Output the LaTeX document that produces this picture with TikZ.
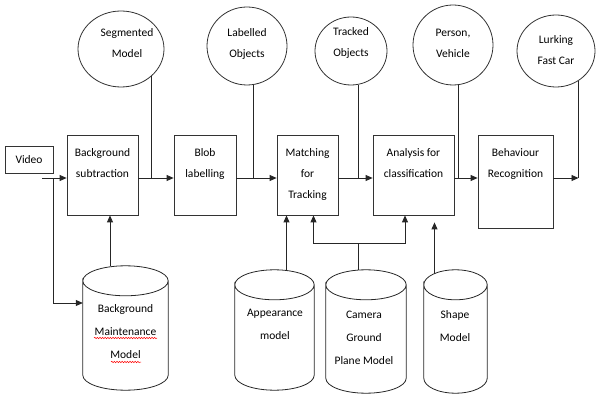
\documentclass[tikz,border=0pt]{standalone}
\usepackage{fontspec}
\setmainfont{Carlito}
\usetikzlibrary{positioning,shapes.geometric,arrows.meta,decorations.pathmorphing,calc}

\begin{document}
\begin{tikzpicture}[x=1pt,y=1pt,
  box/.style={draw=black!80, line width=0.8pt, inner sep=0pt, minimum height=80pt},
  oval/.style={draw=black!80, line width=0.8pt, ellipse, inner sep=0pt},
  drum/.style={inner sep=0pt},
  txt/.style={font=\fontsize{11.5}{21}\selectfont, align=center, inner sep=0pt},
  dtxt/.style={font=\fontsize{11.5}{23}\selectfont, align=center, inner sep=0pt},
  arr/.style={draw=black!85, line width=0.8pt, -{Triangle[length=7pt,width=6pt]}},
  link/.style={draw=black!85, line width=0.8pt},
  wavy/.style={draw=red, line width=0.5pt, decorate, decoration={snake, amplitude=0.7pt, segment length=2.6pt}}]
\useasboundingbox (0,0) rectangle (596,396);

% processing boxes
\node[box, minimum width=48pt, minimum height=27pt, txt] (video) at (29,236.5) {Video};
\node[box, minimum width=71pt] (bgs) at (102.5,221) {};
\node[box, minimum width=62pt] (blob) at (205,221) {};
\node[box, minimum width=61pt] (match) at (307.5,221) {};
\node[box, minimum width=81pt] (anal) at (413.5,221) {};
\node[box, minimum width=75pt, minimum height=93pt] (behav) at (515.5,214.5) {};
\node[txt, below=14pt of bgs.north] (bgstxt) {Background\\subtraction};
\node[txt, below=14pt of blob.north] (blobtxt) {Blob\\labelling};
\node[txt, below=14pt of match.north] (matchtxt) {Matching\\for\\Tracking};
\node[txt, below=14pt of anal.north] (analtxt) {Analysis for\\classification};
\node[txt, below=14pt of behav.north] (behavtxt) {Behaviour\\Recognition};

% outputs
\node[oval, minimum width=86pt, minimum height=76pt] (seg) at (121,347) {};
\node[oval, minimum width=80pt, minimum height=78pt] (lab) at (247,350) {};
\node[oval, minimum width=72pt, minimum height=68pt] (trk) at (351,345) {};
\node[oval, minimum width=80pt, minimum height=80pt] (per) at (453,351) {};
\node[oval, minimum width=78pt, minimum height=72pt] (lurk) at (556,345) {};
\node[txt] (segtxt) at (127,352.5) {Segmented\\Model};
\node[txt] (labtxt) at (247,352.5) {Labelled\\Objects};
\node[txt] (trktxt) at (351,353.5) {Tracked\\Objects};
\node[txt] (pertxt) at (453,353) {Person,\\Vehicle};
\node[txt] (lurktxt) at (556,345.5) {Lurking\\Fast Car};

% models
\node[drum, minimum width=85pt, minimum height=124pt] (bmm) at (125.5,68) {};
\node[drum, minimum width=79pt, minimum height=120pt] (app) at (274.5,66) {};
\node[drum, minimum width=80pt, minimum height=123pt] (cgp) at (366,64.5) {};
\node[drum, minimum width=63pt, minimum height=123pt] (shp) at (455.5,64.5) {};
\foreach \c in {bmm,app,cgp,shp}
  \draw[link] let \p1=(\c.west), \p2=(\c.east), \n1={(\x2-\x1)/2} in
    ([yshift=-15pt]\c.north west) arc[start angle=180, end angle=-180, x radius=\n1, y radius=15pt]
    -- ([yshift=15pt]\c.south west) arc[start angle=180, end angle=360, x radius=\n1, y radius=15pt]
    -- ([yshift=-15pt]\c.north east);
\node[dtxt] (bmmtxt) at (125.5,64.5) {Background\\Maintenance\\Model};
\node[dtxt] (apptxt) at (275,72) {Appearance\\model};
\node[dtxt] (cgptxt) at (364,58) {Camera\\Ground\\Plane Model};
\node[dtxt] (shptxt) at (455,69.5) {Shape\\Model};
\draw[wavy] ([shift={(-31.5,-6.5)}]bmmtxt.center) -- ([shift={(31.5,-6.5)}]bmmtxt.center);
\draw[wavy] ([shift={(-14.5,-30.5)}]bmmtxt.center) -- ([shift={(15.5,-30.5)}]bmmtxt.center);

% main flow
\coordinate (lvl) at (0,218);
\draw[arr] ([xshift=-11pt]video.east |- lvl) -- (bgs.west |- lvl);
\draw[arr] (video.east |- lvl) |- ([yshift=25pt]bmm.west);
\foreach \a/\b in {bgs/blob, blob/match, match/anal, anal/behav}
  \draw[arr] (\a.east |- lvl) -- (\b.west |- lvl);
\draw[arr] (behav.east |- lvl) -- (lurk.-53 |- lvl);
\foreach \o/\ang in {seg/-42, lab/-81, trk/-78, per/-83, lurk/-53}
  \draw[link] (\o.\ang) -- (\o.\ang |- lvl);

% model inputs
\coordinate (bgsin) at ([xshift=7.5pt]bgs.south);
\coordinate (matchin) at ([xshift=-21pt]match.south);
\coordinate (cgpjoin) at (358,153);
\coordinate (shpin) at ([shift={(21,-7)}]anal.south);
\draw[arr] (bmm.north -| bgsin) -- (bgsin);
\draw[arr] (app.north -| matchin) -- (matchin);
\draw[link] (cgp.north -| cgpjoin) -- (cgpjoin);
\draw[arr] (cgpjoin) -| ([xshift=6pt]match.south);
\draw[arr] (cgpjoin) -| ([xshift=-8.5pt]anal.south);
\draw[arr] ([yshift=-4pt]shp.north -| shpin) -- (shpin);
\end{tikzpicture}
\end{document}
